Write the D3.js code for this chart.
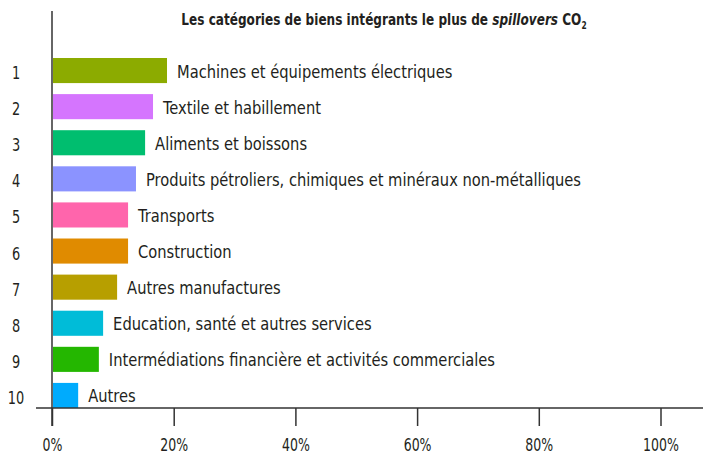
<!DOCTYPE html>
<html>
<head>
<meta charset="utf-8">
<script src="https://d3js.org/d3.v7.min.js"></script>
<style>
    body { margin: 0; background: #fff; }
    text { font-family: "Liberation Sans Narrow", "DejaVu Sans Condensed", "Roboto Condensed", sans-serif; fill: #231f20; }
</style>
</head>
<body>
<svg></svg>
<script>
// Data
const ranks = ["1", "2", "3", "4", "5", "6", "7", "8", "9", "10"]
const categories = [
    "Machines et équipements électriques",
    "Textile et habillement",
    "Aliments et boissons",
    "Produits pétroliers, chimiques et minéraux non-métalliques",
    "Transports",
    "Construction",
    "Autres manufactures",
    "Education, santé et autres services",
    "Intermédiations financière et activités commerciales",
    "Autres"
]
const shares = [18.9, 16.6, 15.3, 13.8, 12.5, 12.5, 10.7, 8.4, 7.7, 4.3]
const barColors = ["#8CAB00", "#D575FE", "#00BE6F", "#8B93FF", "#FF65AC",
                   "#E08B00", "#B79F00", "#00BCD8", "#24B700", "#00ABFD"]
const xTicks = [0, 20, 40, 60, 80, 100]

// Layout
const width = 703, height = 455
const svg = d3.select("svg").attr("width", width).attr("height", height)

const x = d3.scaleLinear().domain([0, 100]).range([52, 660.5])
const y = d3.scaleBand().domain(ranks).range([58, 408]).paddingInner(0.305).paddingOuter(0)
const axisY = 408

// Bars
svg.append("g")
    .selectAll("rect")
    .data(shares)
    .join("rect")
    .attr("x", x(0) + 1)
    .attr("y", (d, i) => y(ranks[i]))
    .attr("width", d => x(d) - x(0) - 1)
    .attr("height", y.bandwidth())
    .attr("fill", (d, i) => barColors[i])

// Category labels next to bars
svg.append("g")
    .selectAll("text")
    .data(shares)
    .join("text")
    .attr("transform", (d, i) => "translate(" + (x(d) + 10) + "," + (y(ranks[i]) + y.bandwidth() / 2 + 7) + ") scale(0.96,1)")
    .style("font-size", "17px")
    .text((d, i) => categories[i])

// Rank labels
svg.append("g")
    .selectAll("text")
    .data(ranks)
    .join("text")
    .attr("transform", d => "translate(16," + (y(d) + y.bandwidth() / 2 + 8.5) + ") scale(0.82,1)")
    .attr("text-anchor", "middle")
    .style("font-size", "17.5px")
    .text(d => d)

// Axes lines
svg.append("line")
    .attr("x1", x(0)).attr("x2", x(0))
    .attr("y1", 11).attr("y2", axisY + 18)
    .attr("stroke", "#333").attr("stroke-width", 1.5)
svg.append("line")
    .attr("x1", 36).attr("x2", width)
    .attr("y1", axisY).attr("y2", axisY)
    .attr("stroke", "#333").attr("stroke-width", 1.5)

// x ticks
const xAxis = svg.append("g")
    .attr("transform", "translate(0," + axisY + ")")
    .call(d3.axisBottom(x).tickValues(xTicks).tickSize(18).tickFormat(d => d + "%"))
xAxis.select(".domain").remove()
xAxis.selectAll(".tick line").attr("stroke", "#333").attr("stroke-width", 1.5)
xAxis.selectAll(".tick text")
    .attr("y", 0)
    .attr("dy", 0)
    .attr("transform", "translate(0,43) scale(0.82,1)")
    .style("font-size", "17px")
    .attr("fill", "#231f20")

// Title
const title = svg.append("text")
    .attr("transform", "translate(384,25) scale(0.84,1)")
    .attr("text-anchor", "middle")
    .style("font-size", "16px")
    .style("font-weight", "bold")
title.append("tspan").text("Les catégories de biens intégrants le plus de ")
title.append("tspan").style("font-style", "italic").text("spillovers")
title.append("tspan").text(" CO")
title.append("tspan").attr("dy", 4).style("font-size", "10px").text("2")
</script>
</body>
</html>
